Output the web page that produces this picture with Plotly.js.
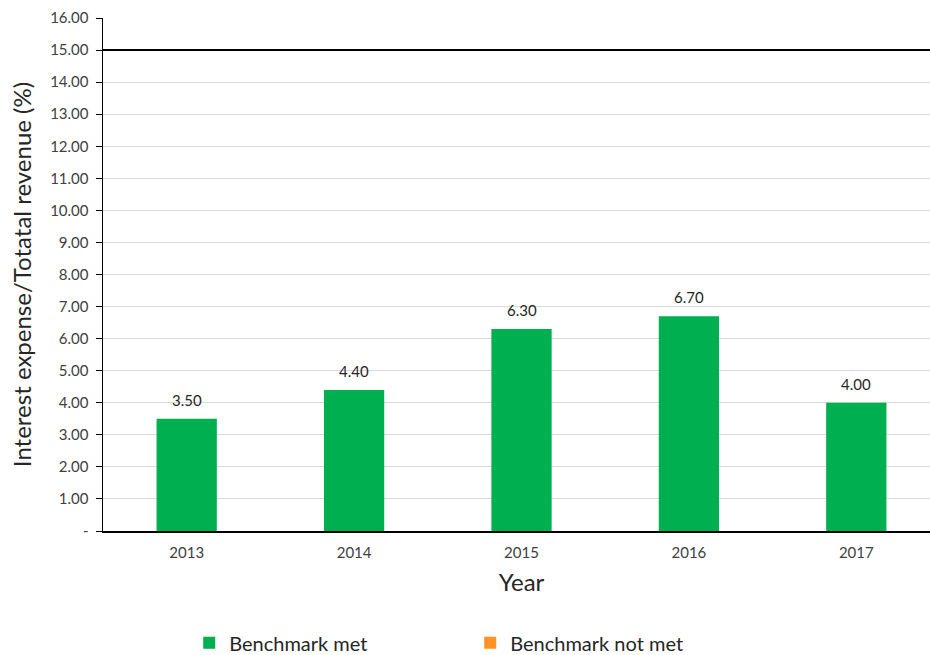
<!DOCTYPE html>
<html>
<head>
<meta charset="utf-8">
<script src="https://cdn.plot.ly/plotly-3.0.1.min.js"></script>
<style>html,body{margin:0;padding:0;overflow:hidden;background:#fff;}</style>
</head>
<body>
<div id="chart" style="width:940px;height:655px;"></div>
<script>
var years = ["2013", "2014", "2015", "2016", "2017"];
var ratioMet = [3.5, 4.4, 6.3, 6.7, 4.0];
var ratioNotMet = [null, null, null, null, null];
var benchmark = 15;
var yTickVals = [0,1,2,3,4,5,6,7,8,9,10,11,12,13,14,15,16];
var yTickText = ["-","1.00","2.00","3.00","4.00","5.00","6.00","7.00","8.00","9.00","10.00","11.00","12.00","13.00","14.00","15.00","16.00"];

var traces = [
  {
    type: "bar", name: "Benchmark met", x: years, y: ratioMet,
    marker: {color: "#00B050"},
    hoverinfo: "x+y"
  },
  {
    type: "bar", name: "Benchmark not met", x: years, y: ratioNotMet,
    marker: {color: "#FF9326"}
  }
];

var labels = years.map(function(yr, i){
  return {
    x: i, y: ratioMet[i], xref: "x", yref: "y",
    text: ratioMet[i].toFixed(2), showarrow: false,
    yanchor: "bottom", yshift: 8,
    font: {size: 15, color: "#262626"}
  };
});

var layout = {
  width: 940, height: 655,
  margin: {l: 103, r: 0, t: 18, b: 124, autoexpand: false},
  font: {family: "Lato, 'Open Sans', sans-serif", color: "#404040"},
  paper_bgcolor: "#fff", plot_bgcolor: "#fff",
  barmode: "overlay",
  bargap: 0.64,
  showlegend: true,
  legend: {
    orientation: "h", x: 0.103, y: -0.18, xanchor: "left", yanchor: "top",
    font: {size: 20, color: "#262626"},
    entrywidth: 236, entrywidthmode: "pixels",
    itemwidth: 30
  },
  annotations: labels,
  xaxis: {
    type: "category",
    range: [-0.5, years.length - 0.5],
    showline: true, linecolor: "#000", linewidth: 1.5,
    ticks: "", tickfont: {size: 15, color: "#404040"},
    ticklabelstandoff: 7,
    title: {text: "Year", font: {size: 24, color: "#262626"}, standoff: 14},
    showgrid: false, zeroline: false
  },
  yaxis: {
    range: [0, 16],
    tickvals: yTickVals, ticktext: yTickText,
    tickfont: {size: 15, color: "#404040"},
    ticklabelstandoff: 4,
    showline: true, linecolor: "#000", linewidth: 1.5,
    ticks: "outside", ticklen: 6, tickcolor: "#000",
    showgrid: true, gridcolor: "#d9d9d9", gridwidth: 1,
    zeroline: false,
    title: {text: "Interest expense/Totatal revenue (%)", font: {size: 24, color: "#262626"}, standoff: 12}
  },
  shapes: [
    {type: "line", xref: "paper", x0: 0, x1: 1, yref: "y", y0: benchmark, y1: benchmark,
     line: {color: "#000", width: 2}}
  ]
};

Plotly.newPlot("chart", traces, layout, {displayModeBar: false, staticPlot: true});
</script>
</body>
</html>
